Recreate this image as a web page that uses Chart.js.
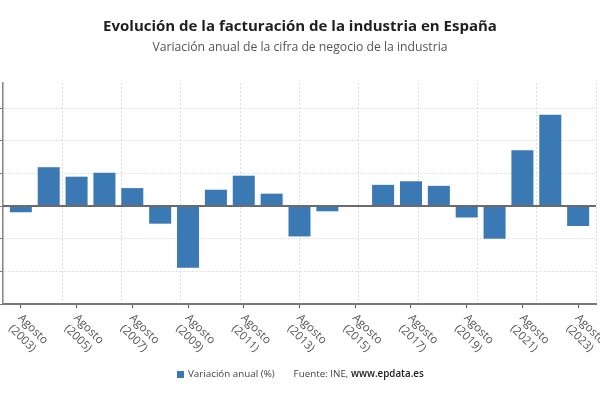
<!DOCTYPE html>
<html>
<head>
<meta charset="utf-8">
<script src="https://cdn.jsdelivr.net/npm/chart.js@4"></script>
<style>
  html, body { margin: 0; padding: 0; background: #fff; }
  #wrap { width: 600px; height: 400px; }
</style>
</head>
<body>
<div id="wrap"><canvas id="chart"></canvas></div>
<script>
// Chart data
const years = [2003, 2004, 2005, 2006, 2007, 2008, 2009, 2010, 2011, 2012, 2013,
               2014, 2015, 2016, 2017, 2018, 2019, 2020, 2021, 2022, 2023];
const variacion = [-1.9, 11.9, 9.0, 10.2, 5.5, -5.4, -18.9, 5.0, 9.3, 3.8, -9.3,
                   -1.6, 0.1, 6.5, 7.6, 6.2, -3.5, -10.0, 17.1, 28.0, -6.1];
const labeledYears = [2003, 2005, 2007, 2009, 2011, 2013, 2015, 2017, 2019, 2021, 2023];

const titleText = 'Evolución de la facturación de la industria en España';
const subtitleText = 'Variación anual de la cifra de negocio de la industria';
const seriesName = 'Variación anual (%)';
const barColor = '#3a79b4';

// Title, rotated x labels, zero line and footer legend
const decorations = {
    id: 'decorations',
    afterDatasetsDraw(chart) {
        const { ctx, chartArea, scales } = chart;
        const y0 = scales.y.getPixelForValue(0);
        ctx.save();
        ctx.strokeStyle = '#6b6b6b';
        ctx.lineWidth = 2;
        ctx.beginPath();
        ctx.moveTo(chartArea.left, y0);
        ctx.lineTo(chartArea.right, y0);
        ctx.stroke();
        ctx.restore();
    },
    afterDraw(chart) {
        const { ctx, scales, chartArea } = chart;
        const cx = 300;
        ctx.save();

        // Title
        ctx.textAlign = 'center';
        ctx.textBaseline = 'middle';
        ctx.fillStyle = '#1e1e1e';
        ctx.font = 'bold 15px "Open Sans"';
        ctx.fillText(titleText, cx, 27);
        ctx.fillStyle = '#555';
        ctx.font = '12.2px "Open Sans"';
        ctx.fillText(subtitleText, cx, 47.5);

        // Rotated x labels
        const xs = scales.x;
        const base = chartArea.bottom + 14.5;
        ctx.font = '11.5px "Open Sans"';
        ctx.fillStyle = '#555';
        ctx.textAlign = 'left';
        ctx.textBaseline = 'alphabetic';
        xs.ticks.forEach(t => {
            const px = xs.getPixelForValue(t.value);
            ctx.save();
            ctx.translate(px - 3.3, base);
            ctx.rotate(Math.PI / 4);
            ctx.fillText('Agosto', 0, 0);
            ctx.fillText('(' + years[t.value] + ')', 1, 14);
            ctx.restore();
        });

        // Legend + source
        const ly = 374.5;
        let lx = 177;
        ctx.fillStyle = barColor;
        ctx.fillRect(lx, ly - 3.5, 7, 7);
        lx += 11;
        ctx.textBaseline = 'middle';
        ctx.font = '9.8px "Open Sans"';
        ctx.fillStyle = '#444';
        ctx.fillText(seriesName, lx, ly);
        lx += ctx.measureText(seriesName).width + 19;
        const src1 = 'Fuente: INE, ';
        ctx.fillText(src1, lx, ly);
        lx += ctx.measureText(src1).width;
        ctx.font = '600 9.8px "Open Sans"';
        ctx.fillStyle = '#222';
        ctx.fillText('www.epdata.es', lx, ly);

        ctx.restore();
    }
};

new Chart(document.getElementById('chart'), {
    type: 'bar',
    data: {
        datasets: [{
            label: seriesName,
            data: variacion.map((v, i) => ({ x: i, y: v })),
            backgroundColor: barColor,
            barPercentage: 0.79,
            categoryPercentage: 1
        }]
    },
    options: {
        responsive: true,
        maintainAspectRatio: false,
        animation: false,
        layout: { padding: { top: 83, right: 4, bottom: 92, left: 0 } },
        plugins: {
            legend: { display: false },
            title: { display: false },
            tooltip: { enabled: false }
        },
        scales: {
            x: {
                type: 'linear',
                offset: false,
                min: -0.64,
                max: years.length - 1 + 0.64,
                afterBuildTicks: axis => {
                    axis.ticks = labeledYears.map(y => ({ value: years.indexOf(y) }));
                },
                ticks: { display: false },
                grid: { drawOnChartArea: false, drawTicks: true, tickLength: 4, color: '#555', lineWidth: 1, offset: false },
                border: { color: '#777', width: 2 }
            },
            xgrid: {
                type: 'linear',
                position: 'bottom',
                offset: false,
                min: 0,
                max: 10,
                ticks: { display: false, stepSize: 1 },
                grid: { color: '#dcdcdc', drawTicks: false, lineWidth: 1, offset: false },
                border: { display: false, dash: [2, 2] }
            },
            y: {
                min: -30,
                max: 37.7,
                ticks: { display: false, stepSize: 10, includeBounds: false },
                grid: { color: '#dcdcdc', tickColor: '#777', tickLength: 3, lineWidth: 1 },
                border: { color: '#888', width: 1.5, dash: [2, 2] }
            }
        }
    },
    plugins: [decorations]
});
</script>
</body>
</html>
